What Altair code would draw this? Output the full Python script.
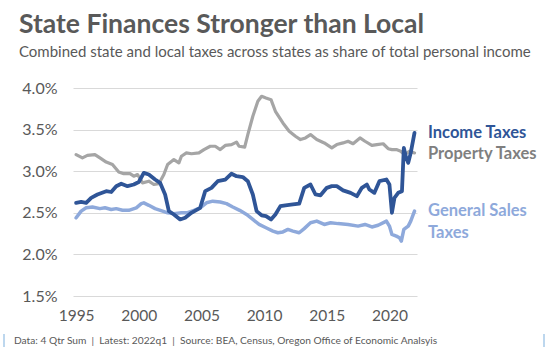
import altair as alt
import pandas as pd

TITLE = "State Finances Stronger than Local"
SUBTITLE = "Combined state and local taxes across states as share of total personal income"
FOOTER = "Data: 4 Qtr Sum\u00a0\u00a0|\u00a0\u00a0Latest: 2022q1\u00a0\u00a0|\u00a0\u00a0Source: BEA, Census, Oregon Office of Economic Analsyis"

x_ticks = [1995, 2000, 2005, 2010, 2015, 2020]
y_ticks = [1.5, 2.0, 2.5, 3.0, 3.5, 4.0]

property_years = [1995.0, 1995.5, 1995.9, 1996.5, 1996.9, 1997.4, 1997.9, 1998.4, 1998.8, 1999.3,
                  1999.6, 1999.9, 2000.3, 2000.8, 2001.2, 2001.6, 2002.0, 2002.3, 2002.8, 2003.2,
                  2003.4, 2003.8, 2004.2, 2004.8, 2005.2, 2005.7, 2006.1, 2006.5, 2006.9, 2007.4,
                  2007.8, 2008.0, 2008.45, 2008.7, 2009.1, 2009.5, 2009.8, 2010.15, 2010.55, 2010.9,
                  2011.5, 2012.0, 2012.5, 2012.9, 2013.3, 2013.7, 2014.2, 2014.8, 2015.4, 2015.8,
                  2016.3, 2016.7, 2017.1, 2017.65, 2018.05, 2018.6, 2019.0, 2019.5, 2019.9, 2020.2,
                  2020.55, 2020.9, 2021.2, 2021.6, 2022.0]
property_values = [3.20, 3.16, 3.19, 3.20, 3.16, 3.11, 3.08, 2.99, 2.97, 2.97,
                   2.94, 2.96, 2.86, 2.88, 2.84, 2.85, 2.96, 3.08, 3.14, 3.10,
                   3.18, 3.22, 3.21, 3.22, 3.26, 3.30, 3.30, 3.26, 3.31, 3.32,
                   3.35, 3.30, 3.29, 3.44, 3.66, 3.84, 3.90, 3.88, 3.86, 3.72,
                   3.58, 3.48, 3.42, 3.38, 3.40, 3.44, 3.38, 3.34, 3.28, 3.32,
                   3.34, 3.36, 3.33, 3.40, 3.36, 3.31, 3.32, 3.33, 3.27, 3.26,
                   3.26, 3.24, 3.20, 3.24, 3.22]

income_years = [1995.0, 1995.4, 1995.8, 1996.2, 1996.7, 1997.4, 1997.8, 1998.2, 1998.6, 1999.1,
                1999.6, 2000.0, 2000.4, 2000.8, 2001.3, 2001.7, 2002.1, 2002.4, 2002.8, 2003.3,
                2003.7, 2004.2, 2004.9, 2005.3, 2005.8, 2006.3, 2006.9, 2007.4, 2007.8, 2008.3,
                2008.7, 2009.1, 2009.4, 2009.8, 2010.15, 2010.55, 2010.9, 2011.3, 2011.7, 2012.3,
                2012.8, 2013.2, 2013.7, 2014.1, 2014.5, 2015.0, 2015.4, 2015.8, 2016.3, 2016.9,
                2017.4, 2017.8, 2018.2, 2018.4, 2018.8, 2019.2, 2019.76, 2020.0, 2020.2, 2020.4,
                2020.7, 2021.0, 2021.15, 2021.3, 2021.5, 2021.7, 2022.0]
income_values = [2.62, 2.63, 2.62, 2.68, 2.72, 2.76, 2.75, 2.82, 2.85, 2.82,
                 2.84, 2.87, 2.98, 2.96, 2.90, 2.86, 2.72, 2.52, 2.48, 2.42,
                 2.44, 2.50, 2.56, 2.76, 2.80, 2.88, 2.90, 2.97, 2.94, 2.93,
                 2.88, 2.72, 2.52, 2.47, 2.46, 2.42, 2.48, 2.58, 2.59, 2.60,
                 2.61, 2.80, 2.84, 2.72, 2.71, 2.80, 2.82, 2.82, 2.77, 2.74,
                 2.70, 2.80, 2.84, 2.78, 2.74, 2.88, 2.90, 2.84, 2.50, 2.68,
                 2.74, 2.76, 3.28, 3.18, 3.10, 3.22, 3.46]

sales_years = [1995.0, 1995.4, 1995.8, 1996.3, 1996.9, 1997.3, 1997.8, 1998.2, 1998.7, 1999.2,
               1999.8, 2000.2, 2000.4, 2000.8, 2001.3, 2001.9, 2002.3, 2002.8, 2003.4, 2003.84,
               2004.4, 2004.9, 2005.4, 2005.9, 2006.5, 2007.0, 2007.5, 2008.05, 2008.6, 2009.1,
               2009.6, 2010.15, 2010.7, 2011.1, 2011.5, 2011.9, 2012.3, 2012.8, 2013.2, 2013.7,
               2014.2, 2014.8, 2015.3, 2015.9, 2016.7, 2017.5, 2018.05, 2018.6, 2019.1, 2019.76,
               2020.0, 2020.2, 2020.55, 2020.8, 2020.95, 2021.15, 2021.5, 2021.7, 2022.0]
sales_values = [2.44, 2.52, 2.56, 2.57, 2.55, 2.56, 2.54, 2.55, 2.53, 2.53,
                2.56, 2.61, 2.62, 2.59, 2.55, 2.52, 2.50, 2.49, 2.50, 2.50,
                2.53, 2.56, 2.62, 2.64, 2.63, 2.61, 2.57, 2.53, 2.48, 2.42,
                2.36, 2.32, 2.28, 2.26, 2.27, 2.30, 2.28, 2.26, 2.31, 2.38,
                2.40, 2.36, 2.38, 2.37, 2.36, 2.34, 2.36, 2.33, 2.35, 2.40,
                2.34, 2.24, 2.22, 2.20, 2.16, 2.30, 2.34, 2.40, 2.52]

series_names = ["Property Taxes", "General Sales Taxes", "Income Taxes"]
series_colors = ["#A5A5A5", "#8EA9DB", "#2F5597"]
series_widths = [3.2, 3.5, 3.8]
series_data = [(property_years, property_values), (sales_years, sales_values),
               (income_years, income_values)]

FONT = "Lato"
GRAY = "#595959"

x_scale = alt.Scale(domain=[1994.75, 2022.2], nice=False, zero=False)
y_scale = alt.Scale(domain=[1.5, 4.0], nice=False, zero=False)

x_axis = alt.Axis(values=x_ticks, format="d", grid=False, domain=False, ticks=False,
                  labelFlush=False, labelFontSize=15.5, labelColor=GRAY, labelFont=FONT,
                  labelPadding=12, title=None)
y_axis = alt.Axis(values=y_ticks, labelExpr="format(datum.value, '.1f') + '%'",
                  grid=True, gridColor="#D9D9D9", gridWidth=1, domain=False, ticks=False,
                  labelFontSize=16, labelColor=GRAY, labelFont=FONT, labelPadding=16,
                  title=None)

layers = []
for name, color, w, (ys, vs) in zip(series_names, series_colors, series_widths, series_data):
    df = pd.DataFrame({"year": ys, "value": vs, "series": name})
    layers.append(alt.Chart(df).mark_line(color=color, strokeWidth=w, strokeJoin="round",
                                          strokeCap="round").encode(
        x=alt.X("year:Q", scale=x_scale, axis=x_axis),
        y=alt.Y("value:Q", scale=y_scale, axis=y_axis),
    ))

def text_layer(txt, x, y, size, color, weight="normal", baseline="alphabetic"):
    return alt.Chart(pd.DataFrame({"t": [txt]})).mark_text(
        align="left", baseline=baseline, font=FONT, fontSize=size, color=color,
        fontWeight=weight
    ).encode(text="t:N", x=alt.value(x), y=alt.value(y))

# titles and annotations (positions relative to the plot area origin)
layers.append(text_layer(TITLE, -54, -55, 26.5, GRAY, "bold"))
layers.append(text_layer(SUBTITLE, -54, -31, 15, GRAY))
layers.append(text_layer("Income Taxes", 355, 45, 16.5, "#2F5597", "bold", "middle"))
layers.append(text_layer("Property Taxes", 355, 66, 16.5, "#7F7F7F", "bold", "middle"))
layers.append(text_layer("General Sales", 355, 123, 16.5, "#8EA9DB", "bold", "middle"))
layers.append(text_layer("Taxes", 355, 145, 16.5, "#8EA9DB", "bold", "middle"))
layers.append(text_layer(FOOTER, -59, 256, 10.2, GRAY))

bar_df = pd.DataFrame({"k": [0]})
for bx in [-69, 471]:
    layers.append(alt.Chart(bar_df).mark_rule(color="#BDD7EE", strokeWidth=2).encode(
        x=alt.value(bx), y=alt.value(246), y2=alt.value(259)))

chart = alt.layer(*layers).properties(
    width=344, height=208,
    autosize=alt.AutoSizeParams(type="none"),
    padding={"left": 73, "top": 88, "right": 131, "bottom": 55},
    background="white",
).configure_view(stroke=None)

chart.save("out.html", embed_options={"renderer": "svg", "actions": False})
